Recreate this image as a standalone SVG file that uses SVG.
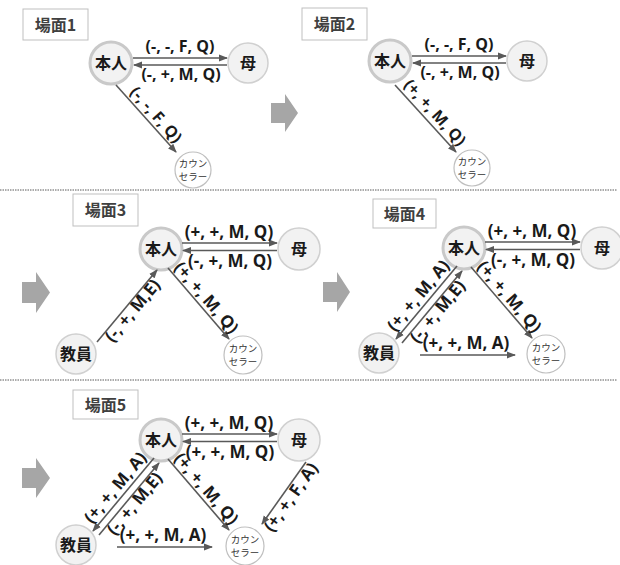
<svg xmlns="http://www.w3.org/2000/svg" width="620" height="565" viewBox="0 0 620 565">
<defs>
<marker id="ah" markerWidth="9" markerHeight="8" refX="8" refY="4" orient="auto" markerUnits="userSpaceOnUse"><path d="M0,0.5 L9,4 L0,7.5 z" fill="#595959"/></marker>
</defs>
<style>
.e{stroke:#595959;stroke-width:1.6;fill:none;marker-end:url(#ah)}
.lb{font-family:"Open Sans","Liberation Sans",sans-serif;font-weight:700;font-size:16px;fill:#1a1a1a;text-anchor:middle}
.big .lb{font-size:17px}
.nm{fill:#f2f2f2;stroke:#d0d0d0;stroke-width:1.5}
.me{fill:#f2f2f2;stroke:#c9c9c9;stroke-width:3}
.co{fill:#fff;stroke:#bfbfbf;stroke-width:1.2}
.nt{font-family:"Noto Sans CJK JP",sans-serif;font-weight:700;font-size:16px;fill:#1a1a1a;text-anchor:middle}
.ct{font-family:"Noto Sans CJK JP",sans-serif;font-size:9.5px;fill:#333;text-anchor:middle}
.box{fill:#fff;stroke:#bfbfbf;stroke-width:1}
.bt{font-family:"Noto Sans CJK JP",sans-serif;font-weight:700;font-size:16px;fill:#404040;text-anchor:middle}
.blk{fill:#a6a6a6}
.sep{stroke:#595959;stroke-width:1;stroke-dasharray:1.5 1}
</style>
<rect width="620" height="565" fill="#fff"/>

<line class="sep" x1="0" y1="190" x2="617" y2="190"/>
<line class="sep" x1="0" y1="380" x2="617" y2="380"/>

<g id="titles">
<g id="title1"><rect class="box" x="23" y="9" width="65" height="31"/><text class="bt" x="55.5" y="31">場面1</text></g>
<g id="title2"><rect class="box" x="302" y="8" width="65" height="32"/><text class="bt" x="334.5" y="30">場面2</text></g>
<g id="title3"><rect class="box" x="73" y="194" width="65" height="32"/><text class="bt" x="105.5" y="216">場面3</text></g>
<g id="title4"><rect class="box" x="373" y="199" width="63" height="29"/><text class="bt" x="404.5" y="220">場面4</text></g>
<g id="title5"><rect class="box" x="73" y="390" width="65" height="29"/><text class="bt" x="105.5" y="411">場面5</text></g>
</g>

<g id="block-arrows">
<path class="blk" d="M271,103 H285 V94 L298,113 L285,132 V123 H271 z"/>
<path class="blk" d="M22,282 H36 V272 L50,292.5 L36,313 V303 H22 z"/>
<path class="blk" d="M323,282 H337 V272 L350,292 L337,312 V302 H323 z"/>
<path class="blk" d="M22,468 H36 V458 L50,478 L36,498 V488 H22 z"/>
</g>

<!-- Scene 1 -->
<g id="scene1">
<g id="s1-honnin"><circle class="me" cx="111" cy="63" r="21"/><text class="nt" x="111" y="69">本人</text></g>
<g id="s1-haha"><circle class="nm" cx="248" cy="63" r="20"/><text class="nt" x="248" y="69">母</text></g>
<g id="s1-counselor"><circle class="co" cx="193" cy="170" r="18"/><text class="ct" x="193" y="167">カウン</text><text class="ct" x="193" y="180">セラー</text></g>
<g id="s1-edges">
<line class="e" x1="133" y1="58" x2="227" y2="58"/>
<line class="e" x1="227" y1="65" x2="134" y2="65"/>
<line class="e" x1="116" y1="85" x2="176" y2="152"/>
<text class="lb" x="180" y="52">(-, -, F, Q)</text>
<text class="lb" x="181" y="80">(-, +, M, Q)</text>
<text class="lb" transform="translate(149,121) rotate(48.2)" y="-4">(-, -, F, Q)</text>
</g>
</g>

<!-- Scene 2 -->
<g id="scene2" transform="translate(279,-2)">
<g id="s2-honnin"><circle class="me" cx="111" cy="63" r="21"/><text class="nt" x="111" y="69">本人</text></g>
<g id="s2-haha"><circle class="nm" cx="248" cy="63" r="20"/><text class="nt" x="248" y="69">母</text></g>
<g id="s2-counselor"><circle class="co" cx="193" cy="170" r="18"/><text class="ct" x="193" y="167">カウン</text><text class="ct" x="193" y="180">セラー</text></g>
<g id="s2-edges">
<line class="e" x1="133" y1="58" x2="227" y2="58"/>
<line class="e" x1="227" y1="65" x2="134" y2="65"/>
<line class="e" x1="116" y1="87" x2="177" y2="154"/>
<text class="lb" x="180" y="52">(-, -, F, Q)</text>
<text class="lb" x="181" y="80">(-, +, M, Q)</text>
<text class="lb" transform="translate(149,121) rotate(47.7)" y="-4">(+, +, M, Q)</text>
</g>
</g>

<!-- Scene 3 -->
<g id="scene3" class="big">
<g id="s3-honnin"><circle class="me" cx="161" cy="249" r="21"/><text class="nt" x="161" y="255">本人</text></g>
<g id="s3-haha"><circle class="nm" cx="299" cy="249" r="21"/><text class="nt" x="299" y="255">母</text></g>
<g id="s3-kyoin"><circle class="nm" cx="76" cy="354" r="20"/><text class="nt" x="76" y="360">教員</text></g>
<g id="s3-counselor"><circle class="co" cx="243" cy="355" r="19"/><text class="ct" x="243" y="352">カウン</text><text class="ct" x="243" y="365">セラー</text></g>
<g id="s3-edges">
<line class="e" x1="182" y1="243" x2="277" y2="243"/>
<line class="e" x1="277" y1="250.5" x2="183" y2="250.5"/>
<text class="lb" x="229" y="238">(+, +, M, Q)</text>
<text class="lb" x="230" y="267">(-, +, M, Q)</text>
<line class="e" x1="97" y1="342" x2="157" y2="270"/>
<text class="lb" transform="translate(127,306) rotate(-50.2)" y="13">(-, +, M,E)</text>
<line class="e" x1="168" y1="268" x2="229" y2="339"/>
<text class="lb" transform="translate(199,304) rotate(49.3)" y="-4">(+, +, M, Q)</text>
</g>
</g>

<!-- Scene 4 -->
<g id="scene4" class="big" transform="translate(303,-1)">
<g id="s4-honnin"><circle class="me" cx="161" cy="249" r="21"/><text class="nt" x="161" y="255">本人</text></g>
<g id="s4-haha"><circle class="nm" cx="299" cy="249" r="21"/><text class="nt" x="299" y="255">母</text></g>
<g id="s4-kyoin"><circle class="nm" cx="76" cy="354" r="20"/><text class="nt" x="76" y="360">教員</text></g>
<g id="s4-counselor"><circle class="co" cx="243" cy="355" r="19"/><text class="ct" x="243" y="352">カウン</text><text class="ct" x="243" y="365">セラー</text></g>
<g id="s4-edges">
<line class="e" x1="182" y1="243" x2="277" y2="243"/>
<line class="e" x1="277" y1="250.5" x2="183" y2="250.5"/>
<text class="lb" x="229" y="238">(+, +, M, Q)</text>
<text class="lb" x="230" y="267">(-, +, M, Q)</text>
<line class="e" x1="154" y1="267" x2="93" y2="340"/>
<text class="lb" transform="translate(123.5,303.5) rotate(-50.2)" y="-5">(+, +, M, A)</text>
<line class="e" x1="99" y1="344" x2="159" y2="272"/>
<text class="lb" transform="translate(129,308) rotate(-50.2)" y="13">(-, +, M,E)</text>
<line class="e" x1="168" y1="268" x2="229" y2="339"/>
<text class="lb" transform="translate(199,304) rotate(49.3)" y="-4">(+, +, M, Q)</text>
<line class="e" x1="117" y1="356" x2="212" y2="356"/>
<text class="lb" x="163" y="350">(+, +, M, A)</text>
</g>
</g>

<!-- Scene 5 -->
<g id="scene5" class="big" transform="translate(0,191)">
<g id="s5-honnin"><circle class="me" cx="161" cy="249" r="21"/><text class="nt" x="161" y="255">本人</text></g>
<g id="s5-haha"><circle class="nm" cx="299" cy="249" r="21"/><text class="nt" x="299" y="255">母</text></g>
<g id="s5-kyoin"><circle class="nm" cx="76" cy="354" r="20"/><text class="nt" x="76" y="360">教員</text></g>
<g id="s5-counselor"><circle class="co" cx="245" cy="355" r="19"/><text class="ct" x="245" y="352">カウン</text><text class="ct" x="245" y="365">セラー</text></g>
<g id="s5-edges">
<line class="e" x1="182" y1="243" x2="277" y2="243"/>
<line class="e" x1="277" y1="250.5" x2="183" y2="250.5"/>
<text class="lb" x="229" y="238">(+, +, M, Q)</text>
<text class="lb" x="230" y="267">(+, +, M, Q)</text>
<line class="e" x1="154" y1="267" x2="93" y2="340"/>
<text class="lb" transform="translate(123.5,303.5) rotate(-50.2)" y="-5">(+, +, M, A)</text>
<line class="e" x1="99" y1="344" x2="159" y2="272"/>
<text class="lb" transform="translate(129,308) rotate(-50.2)" y="13">(-, +, M,E)</text>
<line class="e" x1="168" y1="268" x2="229" y2="339"/>
<text class="lb" transform="translate(199,304) rotate(49.3)" y="-4">(+, +, M, Q)</text>
<line class="e" x1="117" y1="356" x2="212" y2="356"/>
<text class="lb" x="163" y="350">(+, +, M, A)</text>
<line class="e" x1="306" y1="271" x2="262" y2="333"/>
<text class="lb" transform="translate(285,302) rotate(-54.6)" y="13">(+, +, F, A)</text>
</g>
</g>
</svg>
